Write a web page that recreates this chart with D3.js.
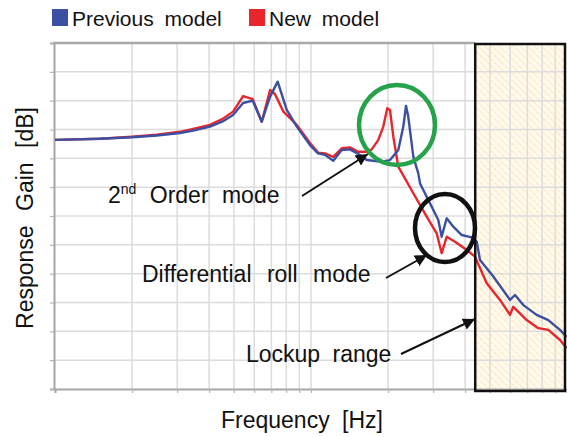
<!DOCTYPE html>
<html><head><meta charset="utf-8">
<script src="https://cdn.jsdelivr.net/npm/d3@7"></script>
<style>
html,body{margin:0;padding:0;background:#fff;}
text{font-family:"Liberation Sans",Arial,sans-serif;fill:#111;}
</style></head>
<body><svg id="c" width="567" height="437"></svg>
<script>
// ---- data ----
const seriesNames = ["Previous model", "New model"];
const seriesColors = ["#3b4fa3", "#e8262b"];
const prevFreq = [1.0,1.5,2.0,2.5,3.08,3.5,4.03,4.5,4.96,5.43,5.92,6.42,6.92,7.41,8.04,8.80,9.91,10.65,11.34,12.22,13.18,14.20,15.30,16.51,18.89,20.35,21.93,22.94,23.50,23.99,25.10,26.25,26.66,29.16,31.42,32.39,33.89,35.96,38.80,42.44,44.40,45.73,51.54,59.88,62.65,67.51,76.12,84.53,93.90,99.7];
const prevGain = [26.4,26.8,27.3,27.9,28.8,29.7,31.0,32.7,35.0,39.2,40.0,32.7,41.4,46.6,36.8,31.0,24.6,21.7,21.2,19.2,22.9,23.1,21.5,19.4,18.8,19.4,22.9,31.0,38.2,34.4,20.6,14.8,11.3,4.4,-1.4,-7.2,-0.8,-3.7,-6.6,-7.4,-8.9,-15.3,-21.0,-29.1,-27.4,-30.9,-34.3,-36.1,-39.5,-41.9];
const newFreq = [1.0,1.5,2.0,2.5,3.08,3.5,4.03,4.5,4.96,5.43,5.92,6.42,6.92,7.23,7.80,8.80,9.91,10.65,11.34,12.22,13.18,14.20,15.30,16.51,17.27,18.32,19.16,19.86,20.35,20.97,21.93,25.10,28.31,30.97,32.39,33.89,36.52,40.58,43.72,48.57,54.74,59.88,61.69,69.61,77.23,84.53,93.90,99.7];
const newGain = [26.4,26.8,27.5,28.2,29.2,30.3,31.6,33.6,36.2,41.6,40.5,32.7,43.7,42.3,36.2,31.6,25.3,22.0,21.7,20.5,23.5,23.8,22.3,22.3,23.1,26.4,31.0,37.4,36.8,27.5,17.1,7.9,-0.2,-6.0,-12.9,-7.2,-8.9,-11.8,-14.1,-23.3,-29.1,-34.3,-31.5,-36.1,-38.9,-39.5,-43.0,-45.9];
const freqGrid = [2,3,4,5,6,7,8,9,10,20,30,40,50,60,70,80,90];
const gainGrid = [-50,-40,-30,-20,-10,0,10,20,30,40,50];
const lockupStart = 43.8;
const labels = {x:"Frequency [Hz]", y:"Response Gain [dB]"};

// ---- layout ----
const svg = d3.select("#c");
const L = 54, R = 567, T = 43, B = 389;
const x = d3.scaleLog().domain([1, 100]).range([55, 567]);
const y = d3.scaleLinear().domain([-60, 60]).range([B, T]);

const defs = svg.append("defs");
const pat = defs.append("pattern").attr("id","hatch").attr("patternUnits","userSpaceOnUse")
  .attr("width",5).attr("height",5).attr("patternTransform","rotate(-45)");
pat.append("rect").attr("width",5).attr("height",5).attr("fill","#fffaec");
pat.append("line").attr("x1",0).attr("y1",0).attr("x2",0).attr("y2",5)
  .attr("stroke","#f8dba4").attr("stroke-width",1.3).attr("stroke-dasharray","2,1");
defs.append("marker").attr("id","arr").attr("viewBox","0 0 10 10").attr("refX",10).attr("refY",5)
  .attr("markerWidth",6).attr("markerHeight",6).attr("markerUnits","strokeWidth").attr("orient","auto")
  .append("path").attr("d","M0,0 L10,5 L0,10 Z").attr("fill","#111");

// lockup box fill
const bx0 = x(lockupStart);
svg.append("rect").attr("x",bx0).attr("y",T+1).attr("width",565-bx0).attr("height",B+2-T-1)
  .attr("fill","url(#hatch)");

// grid
const g = svg.append("g");
g.selectAll(".vg").data(freqGrid).join("line")
  .attr("x1",d=>x(d)).attr("x2",d=>x(d)).attr("y1",T).attr("y2",B)
  .attr("stroke","#dcdcdc").attr("stroke-width",1.5);
g.selectAll(".hg").data(gainGrid).join("line")
  .attr("x1",L).attr("x2",R).attr("y1",d=>y(d)).attr("y2",d=>y(d))
  .attr("stroke","#dcdcdc").attr("stroke-width",1.5);

// axes
const yAxis = d3.axisLeft(y).tickValues(gainGrid.concat([-60,60])).tickSize(4).tickFormat("");
const ya = svg.append("g").attr("transform",`translate(${L},0)`).call(yAxis);
const xAxis = d3.axisBottom(x).tickValues(freqGrid).tickSize(4).tickFormat("");
const xa = svg.append("g").attr("transform",`translate(0,${B})`).call(xAxis);
[ya,xa].forEach(a=>{a.selectAll("path").attr("stroke","#a6a6a6").attr("stroke-width",2);
  a.selectAll("line").attr("stroke","#b5b5b5").attr("stroke-width",1.2);});
svg.append("line").attr("x1",L-1).attr("x2",bx0).attr("y1",T).attr("y2",T)
  .attr("stroke","#a9a9a9").attr("stroke-width",2.5);

// curves
const line = d3.line().x(d=>x(d[0])).y(d=>y(d[1]));
svg.append("path").datum(d3.zip(newFreq,newGain)).attr("d",line)
  .attr("fill","none").attr("stroke",seriesColors[1]).attr("stroke-width",2.4).attr("stroke-linejoin","round");
svg.append("path").datum(d3.zip(prevFreq,prevGain)).attr("d",line)
  .attr("fill","none").attr("stroke",seriesColors[0]).attr("stroke-width",2.4).attr("stroke-linejoin","round");

// lockup box border
svg.append("rect").attr("x",bx0).attr("y",T+1).attr("width",565-bx0).attr("height",B+2-T-1)
  .attr("fill","none").attr("stroke","#111").attr("stroke-width",2.5);

// annotation circles
svg.append("ellipse").attr("cx",397).attr("cy",125).attr("rx",38).attr("ry",40)
  .attr("fill","none").attr("stroke","#25a24a").attr("stroke-width",4.5);
svg.append("ellipse").attr("cx",445).attr("cy",228).attr("rx",30).attr("ry",34)
  .attr("fill","none").attr("stroke","#111").attr("stroke-width",4.5);

// arrows
const arrows = [[302,196,368,154],[386,278,427,255],[401,354,475,319]];
svg.selectAll(".arw").data(arrows).join("line")
  .attr("x1",d=>d[0]).attr("y1",d=>d[1]).attr("x2",d=>d[2]).attr("y2",d=>d[3])
  .attr("stroke","#111").attr("stroke-width",2).attr("marker-end","url(#arr)");

// annotation texts
const fs = 23;
const t1 = svg.append("text").attr("x",108).attr("y",203).attr("font-size",fs).style("word-spacing","7px");
t1.append("tspan").text("2");
t1.append("tspan").attr("dy",-9).attr("font-size",14).text("nd");
t1.append("tspan").attr("dy",9).text(" Order mode");
svg.append("text").attr("x",142).attr("y",282).attr("font-size",fs).style("word-spacing","9px").text("Differential roll mode");
svg.append("text").attr("x",246).attr("y",362).attr("font-size",fs).style("word-spacing","6px").text("Lockup range");

// axis titles
svg.append("text").attr("x",221).attr("y",428).attr("font-size",fs).style("word-spacing","6px").text(labels.x);
svg.append("text").attr("transform","translate(33,218) rotate(-90)").attr("text-anchor","middle")
  .attr("font-size",fs).style("word-spacing","8px").text(labels.y);

// legend
const lg = svg.append("g");
const lx = [52, 249];
seriesNames.forEach((n,i)=>{
  lg.append("rect").attr("x",lx[i]).attr("y",9).attr("width",16).attr("height",17).attr("fill",seriesColors[i]);
  lg.append("text").attr("x",lx[i]+20).attr("y",26).attr("font-size",21).style("word-spacing","5px").text(n);
});
</script></body></html>
